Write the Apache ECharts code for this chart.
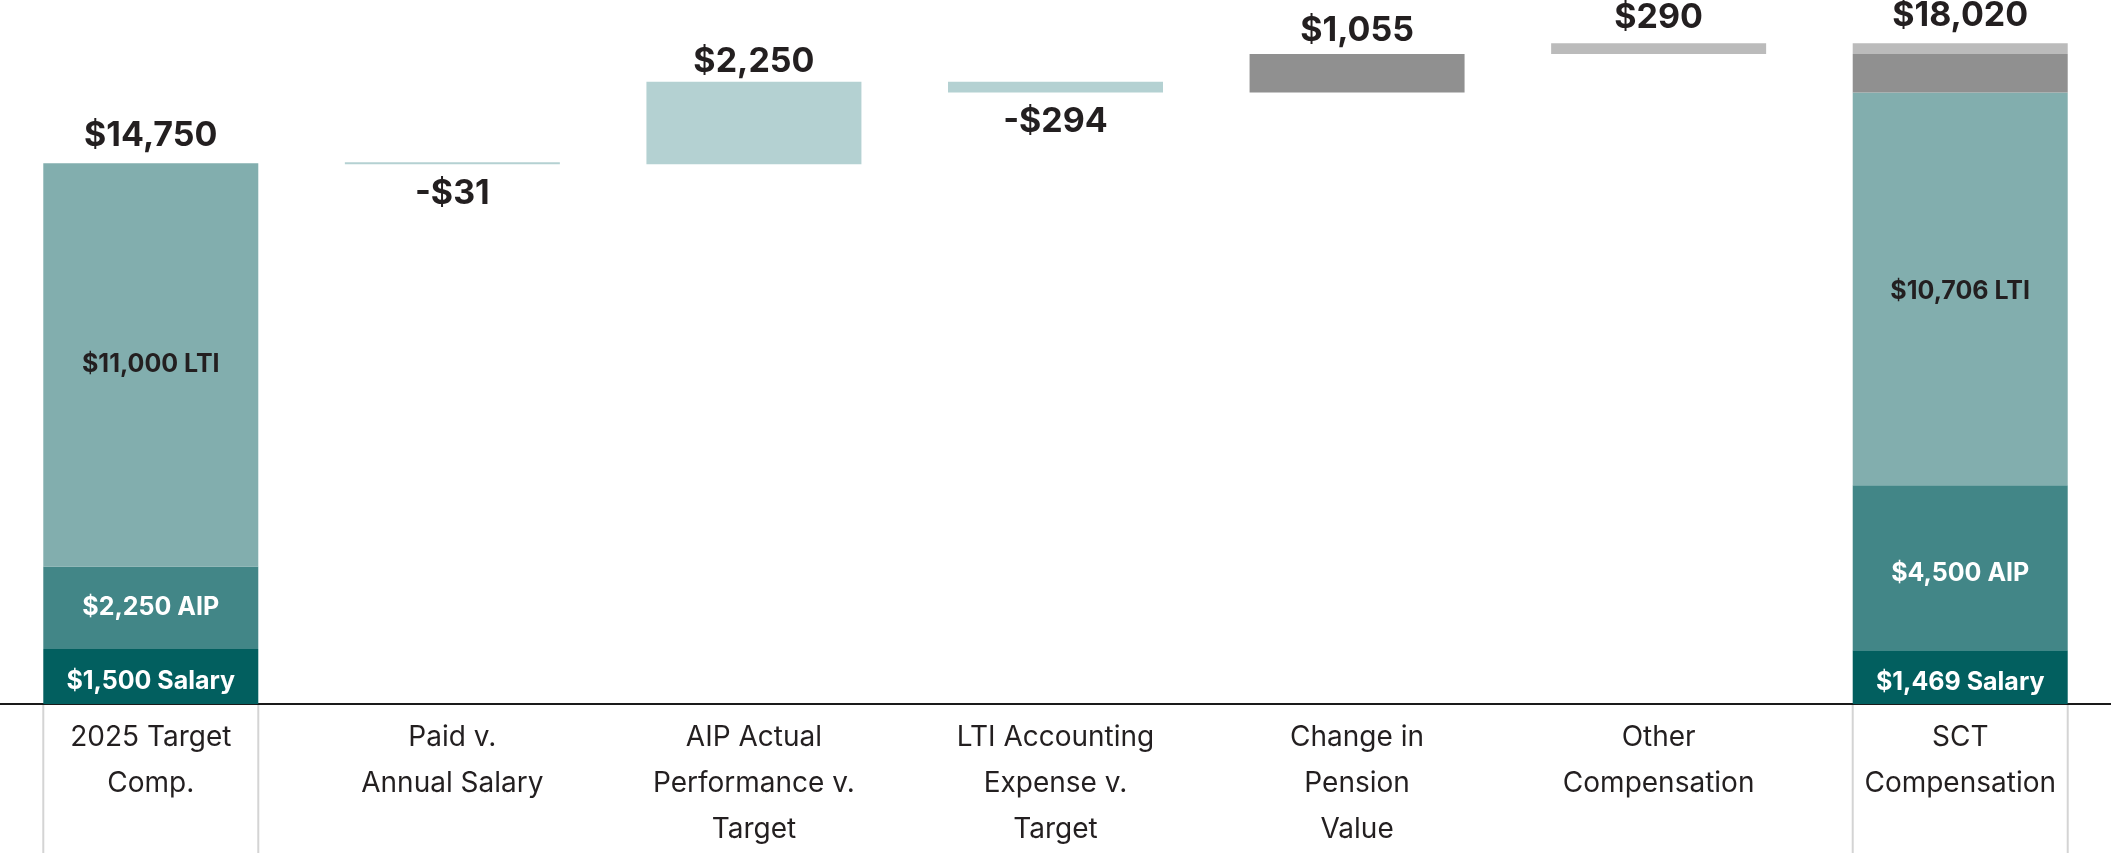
<!DOCTYPE html>
<html><head><meta charset="utf-8">
<script src="https://cdn.jsdelivr.net/npm/echarts@6/dist/echarts.min.js"></script>
<style>html,body{margin:0;padding:0;background:#fff}#c{width:2111px;height:853px}</style>
</head><body><div id="c"></div>
<script>
// ---- data ----
const categories = ['2025 Target\nComp.', 'Paid v.\nAnnual Salary', 'AIP Actual\nPerformance v.\nTarget', 'LTI Accounting\nExpense v.\nTarget', 'Change in\nPension\nValue', 'Other\nCompensation', 'SCT\nCompensation'];
const targetComp = [1500, 2250, 11000];            // Salary, AIP, LTI
const changes = [-31, 2250, -294, 1055, 290];      // categories 2..6
const changeKinds = ['teal', 'teal', 'teal', 'pension', 'other'];
const sctComp = [1469, 4500, 10706, 1055, 290];    // Salary, AIP, LTI, Pension, Other

// ---- styles ----
const FONT = 'Inter, "Noto Sans", sans-serif';
const C = { salary: '#025f5f', aip: '#428687', lti: '#82aeae', teal: '#b4d1d2', pension: '#909090', other: '#bbbbbb', text: '#231f20' };
const BAR_W = 215;
const fmt = v => '$' + Math.abs(v).toLocaleString('en-US');
const fmtSigned = v => (v < 0 ? '-' : '') + fmt(v);

const n = categories.length;
const empty = () => new Array(n).fill('-');
const base = empty(), salary = empty(), aip = empty(), lti = empty(), tealD = empty(), pension = empty(), other = empty(), totals = empty();

salary[0] = targetComp[0]; aip[0] = targetComp[1]; lti[0] = targetComp[2];
const startTotal = targetComp.reduce((a, b) => a + b, 0);
totals[0] = startTotal;
let running = startTotal;
const labelDist = [9, 3, 10, 6, 8]; // visual tweaks
changes.forEach((d, i) => {
  const idx = i + 1;
  let b;
  if (d >= 0) { b = running; running += d; } else { running += d; b = running; }
  base[idx] = b;
  const item = {
    value: Math.abs(d),
    label: { show: true, position: d >= 0 ? 'top' : 'bottom', distance: d >= 0 ? labelDist[i] : 12,
      formatter: () => fmtSigned(d), fontFamily: FONT, fontWeight: 'bold', fontSize: 34, color: C.text }
  };
  if (changeKinds[i] === 'teal') tealD[idx] = item;
  else if (changeKinds[i] === 'pension') pension[idx] = item;
  else other[idx] = item;
});
const last = n - 1;
salary[last] = sctComp[0]; aip[last] = { value: sctComp[1], label: { offset: [0, 6] } }; lti[last] = { value: sctComp[2], label: { offset: [0, 3] } };
pension[last] = sctComp[3]; other[last] = sctComp[4];
totals[last] = sctComp.reduce((a, b) => a + b, 0);

const inner = (suffix, color, off) => ({ show: true, position: 'inside', fontFamily: FONT, fontWeight: 'bold', fontSize: 25, color,
  offset: off || [0, 0], formatter: p => fmt(p.value) + ' ' + suffix });
const barS = (name, data, color, label) => ({ name, type: 'bar', stack: 'w', barWidth: BAR_W, data, barMinHeight: 2,
  itemStyle: { color }, label: label || { show: false }, emphasis: { disabled: true } });

const chart = echarts.init(document.getElementById('c'), null, { renderer: 'canvas' });
chart.setOption({
  animation: false,
  backgroundColor: '#fff',
  grid: { left: 0, right: 0, top: 0, bottom: 146, containLabel: false },
  xAxis: { type: 'category', data: categories,
    axisLine: { show: true, lineStyle: { color: '#1a1a1a', width: 2 } },
    axisTick: { show: false },
    axisLabel: { margin: 11, fontFamily: FONT, fontSize: 28, lineHeight: 46, color: C.text, interval: 0 } },
  yAxis: { type: 'value', min: 0, max: 19200, show: false, splitLine: { show: false } },
  series: [
    { name: 'base', type: 'bar', stack: 'w', barWidth: BAR_W, data: base, itemStyle: { color: 'transparent' }, emphasis: { disabled: true }, silent: true },
    barS('Salary', salary, C.salary, inner('Salary', '#ffffff', [0, 5])),
    barS('AIP', aip, C.aip, inner('AIP', '#ffffff')),
    barS('LTI', lti, C.lti, inner('LTI', C.text)),
    barS('Change', tealD, C.teal),
    barS('Pension', pension, C.pension),
    barS('Other', other, C.other),
    { name: 'Total', type: 'scatter', data: totals, symbolSize: 0, silent: true, itemStyle: { opacity: 1 },
      label: { show: true, position: 'top', distance: 10, opacity: 1, formatter: p => fmt(p.value), fontFamily: FONT, fontWeight: 'bold', fontSize: 34, color: C.text } }
  ]
});

// light guide lines under the first and last columns
const gl = [];
[0, last].forEach(i => {
  const p = chart.convertToPixel({ gridIndex: 0 }, [i, 0]);
  [p[0] - BAR_W / 2, p[0] + BAR_W / 2].forEach(x => {
    gl.push({ type: 'line', shape: { x1: x, y1: p[1] + 1, x2: x, y2: 853 }, style: { stroke: '#d4d4d4', lineWidth: 2 }, silent: true });
  });
});
chart.setOption({ graphic: gl });
</script></body></html>
